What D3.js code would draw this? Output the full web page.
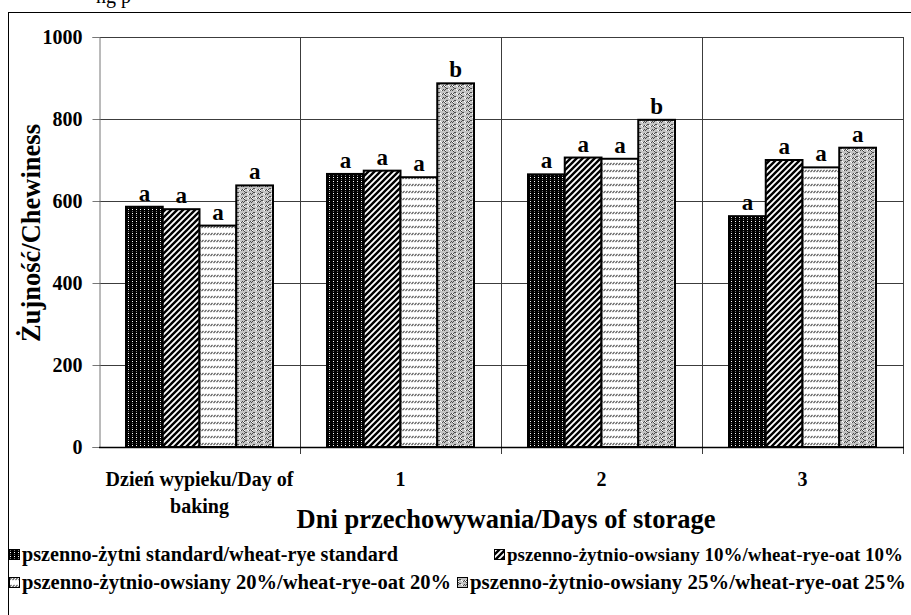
<!doctype html>
<html>
<head>
<meta charset="utf-8">
<style>
  body { margin: 0; background: #fff; }
  text { font-family: "Liberation Serif", "Times New Roman", serif; font-weight: bold; fill: #000; }
</style>
<script src="https://d3js.org/d3.v7.min.js"></script>
</head>
<body>
<svg width="911" height="615"></svg>
<script>
// data
var days = ["Dzień wypieku/Day of baking", "1", "2", "3"];
var series = [
  "pszenno-żytni standard/wheat-rye standard",
  "pszenno-żytnio-owsiany 10%/wheat-rye-oat 10%",
  "pszenno-żytnio-owsiany 20%/wheat-rye-oat 20%",
  "pszenno-żytnio-owsiany 25%/wheat-rye-oat 25%"
];
var standard = [586, 666, 665, 563];
var oat10 = [580, 674, 706, 700];
var oat20 = [540, 658, 703, 682];
var oat25 = [638, 887, 798, 730];
var letters = [
  ["a", "a", "a", "a"],
  ["a", "a", "a", "b"],
  ["a", "a", "a", "b"],
  ["a", "a", "a", "a"]
];
var yTicks = [0, 200, 400, 600, 800, 1000];

var values = [standard, oat10, oat20, oat25];

var svg = d3.select("svg");
var plotL = 99, plotR = 903, plotT = 37, plotB = 447;

// fill patterns
var defs = svg.append("defs");
var p1 = defs.append("pattern").attr("id", "p0").attr("patternUnits", "userSpaceOnUse")
  .attr("width", 4).attr("height", 4);
p1.append("rect").attr("width", 4).attr("height", 4).attr("fill", "#000");
p1.append("rect").attr("x", 1).attr("y", 1).attr("width", 1).attr("height", 1).attr("fill", "#fff");
p1.append("rect").attr("x", 1).attr("y", 3).attr("width", 1).attr("height", 1).attr("fill", "#777");

var p2 = defs.append("pattern").attr("id", "p1").attr("patternUnits", "userSpaceOnUse")
  .attr("width", 6).attr("height", 6);
p2.append("rect").attr("width", 6).attr("height", 6).attr("fill", "#fff");
p2.append("path").attr("d", "M-1,7 L7,-1 M-4,4 L4,-4 M2,10 L10,2")
  .attr("stroke", "#000").attr("stroke-width", 2.4);

var p3 = defs.append("pattern").attr("id", "p2").attr("patternUnits", "userSpaceOnUse")
  .attr("width", 3).attr("height", 7);
p3.append("rect").attr("width", 3).attr("height", 7).attr("fill", "#fff");
p3.append("path").attr("d", "M0.5,4 L2.5,2").attr("stroke", "#555").attr("stroke-width", 1.1);

var p4 = defs.append("pattern").attr("id", "p3").attr("patternUnits", "userSpaceOnUse")
  .attr("width", 8).attr("height", 8);
p4.append("rect").attr("width", 8).attr("height", 8).attr("fill", "#c4c4c4");
p4.append("path").attr("d", "M0,3 L3,0 L6,3 L8,1 M0,7 L3,4 L6,7 L8,5 M2,8 L1,7")
  .attr("stroke", "#4a4a4a").attr("stroke-width", 1).attr("fill", "none");
p4.append("path").attr("d", "M0,5 L2,7 M4,1 L6,3 M4,5 L6,7")
  .attr("stroke", "#fff").attr("stroke-width", 1).attr("fill", "none");

// outer frame and cut caption above it
svg.append("rect").attr("x", 8.5).attr("y", 12.5).attr("width", 940).attr("height", 640)
  .attr("fill", "none").attr("stroke", "#000");
svg.append("text").attr("x", 96).attr("y", 3).style("font-weight", "normal")
  .style("font-size", "20px").text("ng p");

var y = d3.scaleLinear().domain([0, 1000]).range([plotB, plotT]);
var x0 = d3.scaleBand().domain(days).range([plotL, plotR]);
var x1 = d3.scaleBand().domain(d3.range(4)).range([27, x0.bandwidth() - 27]);

// horizontal grid
svg.append("g").selectAll("line").data(yTicks.slice(1)).enter().append("line")
  .attr("x1", plotL).attr("x2", plotR)
  .attr("y1", function(d) { return Math.round(y(d)) + 0.5; })
  .attr("y2", function(d) { return Math.round(y(d)) + 0.5; })
  .attr("stroke", "#3c3c3c");

// vertical separators between days (with tick below the axis)
svg.append("g").selectAll("line").data(days.slice(1)).enter().append("line")
  .attr("x1", function(d) { return Math.round(x0(d)) + 0.5; })
  .attr("x2", function(d) { return Math.round(x0(d)) + 0.5; })
  .attr("y1", plotT).attr("y2", plotB + 7)
  .attr("stroke", "#3c3c3c");
svg.append("line").attr("x1", plotR + 0.5).attr("x2", plotR + 0.5)
  .attr("y1", plotT).attr("y2", plotB + 7).attr("stroke", "#3c3c3c");

// y axis
var yAxis = svg.append("g").attr("transform", "translate(" + (plotL + 0.5) + ",0)")
  .call(d3.axisLeft(y).tickValues(yTicks).tickSize(7).tickPadding(10).tickFormat(d3.format("d")));
yAxis.select(".domain").attr("stroke", "#777");
yAxis.selectAll(".tick line").attr("stroke", "#777");
yAxis.selectAll("text").style("font-size", "20px").attr("fill", "#000")
  .style("font-family", "Liberation Serif").style("font-weight", "bold");

// bars
var groups = svg.append("g").selectAll("g").data(days).enter().append("g")
  .attr("transform", function(d) { return "translate(" + x0(d) + ",0)"; });

groups.selectAll("rect").data(function(d, i) {
    return values.map(function(v, s) { return { s: s, v: v[i] }; });
  }).enter().append("rect")
  .attr("x", function(d) { return x1(d.s); })
  .attr("y", function(d) { return y(d.v); })
  .attr("width", x1.bandwidth())
  .attr("height", function(d) { return plotB - y(d.v); })
  .attr("fill", function(d) { return "url(#p" + d.s + ")"; })
  .attr("stroke", "#000").attr("stroke-width", 2);

groups.selectAll("text.sig").data(function(d, i) {
    return values.map(function(v, s) { return { s: s, v: v[i], t: letters[i][s] }; });
  }).enter().append("text").attr("class", "sig")
  .attr("x", function(d) { return x1(d.s) + x1.bandwidth() / 2; })
  .attr("y", function(d) { return y(d.v) - 6; })
  .attr("text-anchor", "middle").style("font-size", "23px")
  .text(function(d) { return d.t; });

// x axis line
svg.append("line").attr("x1", plotL).attr("x2", plotR + 1)
  .attr("y1", plotB + 0.5).attr("y2", plotB + 0.5).attr("stroke", "#000").attr("stroke-width", 1.5);

// category labels
svg.append("g").selectAll("text").data(days).enter().append("text")
  .attr("x", function(d) { return x0(d) + x0.bandwidth() / 2; })
  .attr("y", 486).attr("text-anchor", "middle").style("font-size", "20px")
  .each(function(d) {
    var t = d3.select(this);
    if (d.indexOf("Day of") > 0) {
      t.append("tspan").attr("x", t.attr("x")).text("Dzień wypieku/Day of");
      t.append("tspan").attr("x", t.attr("x")).attr("dy", 27).text("baking");
    } else {
      t.text(d);
    }
  });

// axis titles
svg.append("text").attr("x", 506).attr("y", 528).attr("text-anchor", "middle")
  .style("font-size", "26.5px").text("Dni przechowywania/Days of storage");
svg.append("text").attr("transform", "translate(40,233) rotate(-90)")
  .attr("text-anchor", "middle").style("font-size", "26.5px").text("Żujność/Chewiness");

// legend (box x, row y, text length, font size)
var legPos = [[9, 555, 376, 20], [494, 555, 396, 19], [9, 583, 429, 20.5], [457, 583, 436, 20.5]];
var leg = svg.append("g").selectAll("g").data(series).enter().append("g")
  .attr("transform", function(d, i) { return "translate(" + legPos[i][0] + "," + legPos[i][1] + ")"; });
leg.append("rect").attr("x", 0.5).attr("y", -5.5).attr("width", 10).attr("height", 10)
  .attr("fill", function(d, i) { return "url(#p" + i + ")"; })
  .attr("stroke", "#000");
leg.append("text").attr("x", 13).attr("y", 6)
  .style("font-size", function(d, i) { return legPos[i][3] + "px"; })
  .attr("textLength", function(d, i) { return legPos[i][2]; })
  .attr("lengthAdjust", "spacingAndGlyphs")
  .text(function(d) { return d; });
</script>
</body>
</html>
